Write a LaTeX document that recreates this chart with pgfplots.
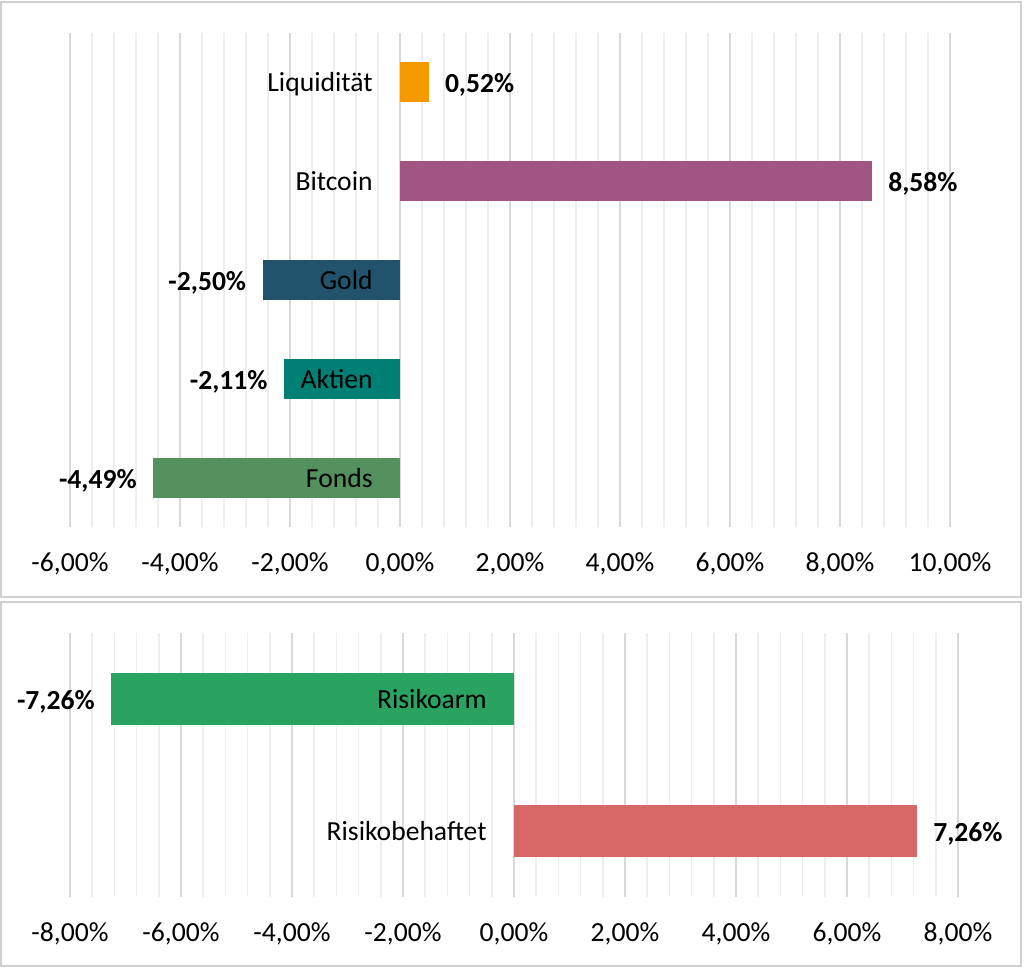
\documentclass[border=0pt]{standalone}
\usepackage{fontspec}
\setmainfont{Carlito}
\usepackage{pgfplots}
\pgfplotsset{compat=1.18}

\definecolor{cLiq}{HTML}{F59B00}
\definecolor{cBtc}{HTML}{A05582}
\definecolor{cGold}{HTML}{22536C}
\definecolor{cAkt}{HTML}{007F75}
\definecolor{cFonds}{HTML}{54915F}
\definecolor{cArm}{HTML}{2AA260}
\definecolor{cBeh}{HTML}{D66868}
\definecolor{gridmaj}{HTML}{D9D9D9}
\definecolor{gridmin}{HTML}{EEEEEE}
\definecolor{framec}{HTML}{D0D0D0}

\newcommand\chartfont{\fontsize{13.8bp}{16bp}\selectfont}

\tikzset{cat/.style={anchor=east, inner sep=0pt, xshift=-13.5bp, yshift=-1.5bp, font=\chartfont}}

\pgfplotsset{
  panel/.style={
    scale only axis, clip=false,
    xbar, bar shift=0pt, bar width=0.4,
    axis lines*=left, axis line style={draw=none},
    major tick length=0pt, minor tick length=0pt,
    xmajorgrids, xminorgrids, minor x tick num=4,
    major grid style={draw=gridmaj, line width=0.8bp},
    minor grid style={draw=gridmin, line width=0.8bp},
    /pgf/number format/assume math mode=true,
    xticklabel={\pgfmathprintnumber[fixed,fixed zerofill,precision=2,use comma]{\tick}\%},
    xticklabel style={anchor=base, inner sep=0pt, yshift=-22.25bp},
    ytick=\empty,
    point meta=x,
    nodes near coords={\pgfmathprintnumber[fixed,fixed zerofill,precision=2,use comma]{\pgfplotspointmeta}\%},
    nodes near coords style={font=\chartfont\bfseries, inner xsep=8bp, inner ysep=0pt, yshift=-1.5bp},
  },
}

\begin{document}
\begin{tikzpicture}[font=\chartfont]
\useasboundingbox (0,0) rectangle (512bp,484bp);

% oberes Diagramm
\begin{axis}[panel,
    at={(35bp,220.25bp)}, anchor=south west,
    width=440bp, height=247.5bp,
    xmin=-6, xmax=10, xtick={-6,-4,...,10},
    ymin=-0.5, ymax=4.5,
]
\addplot[fill=cFonds, draw=none] coordinates {(-4.49,0)};
\addplot[fill=cAkt, draw=none] coordinates {(-2.11,1)};
\addplot[fill=cGold, draw=none] coordinates {(-2.50,2)};
\addplot[fill=cBtc, draw=none] coordinates {(8.58,3)};
\addplot[fill=cLiq, draw=none] coordinates {(0.52,4)};
\node[cat] at (axis cs:0,0) {\strut Fonds};
\node[cat] at (axis cs:0,1) {\strut Aktien};
\node[cat] at (axis cs:0,2) {\strut Gold};
\node[cat] at (axis cs:0,3) {\strut Bitcoin};
\node[cat] at (axis cs:0,4) {\strut Liquidität};
\end{axis}

% unteres Diagramm
\begin{axis}[panel,
    at={(35bp,35.5bp)}, anchor=south west,
    width=444bp, height=132bp,
    xmin=-8, xmax=8, xtick={-8,-6,...,8},
    ymin=-0.5, ymax=1.5,
]
\addplot[fill=cBeh, draw=none] coordinates {(7.26,0)};
\addplot[fill=cArm, draw=none] coordinates {(-7.26,1)};
\node[cat] at (axis cs:0,0) {\strut Risikobehaftet};
\node[cat] at (axis cs:0,1) {\strut Risikoarm};
\end{axis}

\draw[framec, line width=1bp] (0.5bp,185.5bp) rectangle (510.5bp,483bp);
\draw[framec, line width=1bp] (0.5bp,1bp) rectangle (510.5bp,183bp);
\end{tikzpicture}
\end{document}
